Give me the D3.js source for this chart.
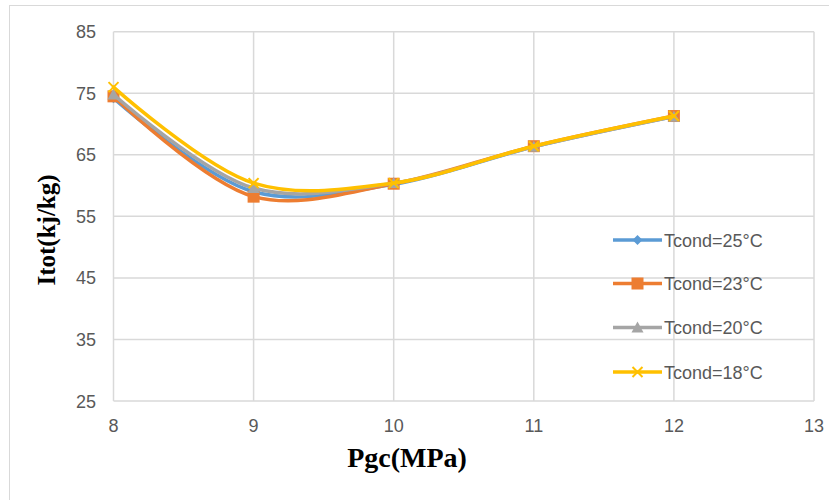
<!DOCTYPE html>
<html><head><meta charset="utf-8">
<script src="https://cdn.jsdelivr.net/npm/d3@7"></script>
<style>body{margin:0;background:#fff}</style>
</head><body><svg id="c" width="829" height="500"></svg>
<script>
const pgc = [8, 9, 10, 11, 12];
const t25 = [74.2, 59.0, 60.2, 66.3, 71.2];
const t23 = [74.5, 58.2, 60.3, 66.4, 71.3];
const t20 = [74.8, 59.6, 60.4, 66.3, 71.2];
const t18 = [76.0, 60.4, 60.4, 66.4, 71.3];
const seriesNames = ["Tcond=25°C", "Tcond=23°C", "Tcond=20°C", "Tcond=18°C"];
const xTicks = [8, 9, 10, 11, 12, 13];
const yTicks = [25, 35, 45, 55, 65, 75, 85];

const colors = ["#5B9BD5", "#ED7D31", "#A5A5A5", "#FFC000"];
const markers = ["diamond", "square", "triangle", "x"];
const values = [t25, t23, t20, t18];

const svg = d3.select("#c");
svg.append("rect").attr("x", 9.5).attr("y", 5.5).attr("width", 830).attr("height", 500)
  .attr("fill", "#fff").attr("stroke", "#d9d9d9");

const x = d3.scaleLinear().domain([8, 13]).range([113.5, 814]);
const y = d3.scaleLinear().domain([25, 85]).range([401, 31.7]);

const g = svg.append("g");
g.selectAll(".vg").data(xTicks).join("line")
  .attr("x1", d => x(d)).attr("x2", d => x(d)).attr("y1", y(25)).attr("y2", y(85))
  .attr("stroke", "#d9d9d9").attr("stroke-width", 1.5);
g.selectAll(".hg").data(yTicks).join("line")
  .attr("y1", d => y(d)).attr("y2", d => y(d)).attr("x1", x(8)).attr("x2", x(13))
  .attr("stroke", "#d9d9d9").attr("stroke-width", 1.5);

const tickFont = "'Liberation Sans', Arial, sans-serif";
g.selectAll(".xl").data(xTicks).join("text")
  .attr("x", d => x(d)).attr("y", 432).attr("text-anchor", "middle")
  .attr("font-family", tickFont).attr("font-size", 18).attr("fill", "#595959")
  .text(d => d);
g.selectAll(".yl").data(yTicks).join("text")
  .attr("x", 96).attr("y", d => y(d) + 6.5).attr("text-anchor", "end")
  .attr("font-family", tickFont).attr("font-size", 18).attr("fill", "#595959")
  .text(d => d);

svg.append("text").attr("x", 407).attr("y", 467).attr("text-anchor", "middle")
  .attr("font-family", "'Liberation Serif', 'Times New Roman', serif")
  .attr("font-weight", "bold").attr("font-size", 28).attr("fill", "#000")
  .text("Pgc(MPa)");
svg.append("text").attr("transform", "translate(55,230) rotate(-90)").attr("text-anchor", "middle")
  .attr("font-family", "'Liberation Serif', 'Times New Roman', serif")
  .attr("font-weight", "bold").attr("font-size", 25).attr("fill", "#000")
  .text("Itot(kj/kg)");

const line = d3.line().x((d, i) => x(pgc[i])).y(d => y(d)).curve(d3.curveCatmullRom.alpha(0.5));

function drawMarker(sel, type, color, cx, cy) {
  if (type === "diamond") {
    sel.append("path").attr("d", `M${cx},${cy-5}L${cx+5},${cy}L${cx},${cy+5}L${cx-5},${cy}Z`).attr("fill", color);
  } else if (type === "square") {
    sel.append("rect").attr("x", cx-6).attr("y", cy-6).attr("width", 12).attr("height", 12).attr("fill", color);
  } else if (type === "triangle") {
    sel.append("path").attr("d", `M${cx},${cy-6}L${cx+6},${cy+5}L${cx-6},${cy+5}Z`).attr("fill", color);
  } else {
    sel.append("path").attr("d", `M${cx-5},${cy-5}L${cx+5},${cy+5}M${cx-5},${cy+5}L${cx+5},${cy-5}`)
      .attr("stroke", color).attr("stroke-width", 2);
  }
}

values.forEach((vals, k) => {
  const sg = svg.append("g");
  sg.append("path").datum(vals).attr("d", line).attr("fill", "none")
    .attr("stroke", colors[k]).attr("stroke-width", 3.5).attr("stroke-linecap", "round");
  vals.forEach((v, i) => drawMarker(sg, markers[k], colors[k], x(pgc[i]), y(v)));
});

// legend
const legY = [240, 283.5, 327.5, 372];
seriesNames.forEach((name, k) => {
  const lg = svg.append("g");
  lg.append("line").attr("x1", 613).attr("x2", 662).attr("y1", legY[k]).attr("y2", legY[k])
    .attr("stroke", colors[k]).attr("stroke-width", 3.5);
  drawMarker(lg, markers[k], colors[k], 637.5, legY[k]);
  lg.append("text").attr("x", 664).attr("y", legY[k] + 6.5)
    .attr("font-family", tickFont).attr("font-size", 18).attr("fill", "#595959").text(name);
});
</script></body></html>
